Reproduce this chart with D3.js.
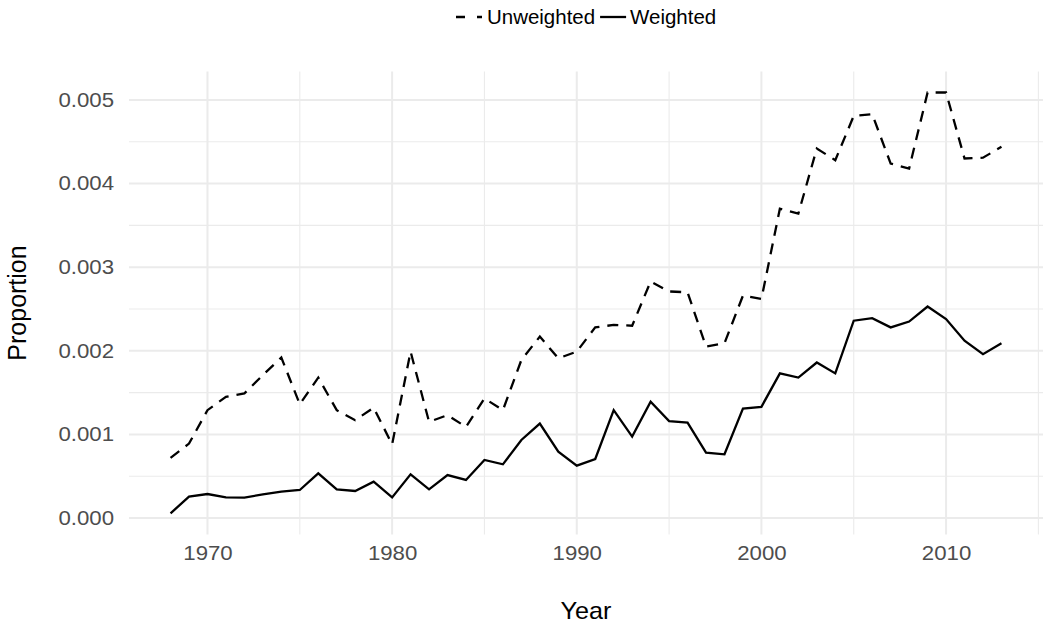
<!DOCTYPE html>
<html>
<head>
<meta charset="utf-8">
<script src="https://cdn.jsdelivr.net/npm/d3@7/dist/d3.min.js"></script>
<style>
  body { margin: 0; background: #fff; }
  text { font-family: "Liberation Sans", Arial, sans-serif; }
</style>
</head>
<body>
<svg id="chart" width="1050" height="628"></svg>
<script>
// data
const years = d3.range(1968, 2014);
const unweighted = [
  0.00072, 0.00089, 0.00129, 0.00145, 0.00149, 0.00171, 0.00192, 0.00136, 0.00168, 0.00129,
  0.00117, 0.00132, 0.00088, 0.00199, 0.00115, 0.00123, 0.00109, 0.00143, 0.00129, 0.00189,
  0.00217, 0.00191, 0.00199, 0.00228, 0.00231, 0.00230, 0.00283, 0.00271, 0.00270, 0.00205,
  0.00209, 0.00266, 0.00262, 0.00370, 0.00364, 0.00442, 0.00428, 0.00481, 0.00483, 0.00424,
  0.00418, 0.00509, 0.00509, 0.00430, 0.00431, 0.00444
];
const weighted = [
  0.000056, 0.000255, 0.000287, 0.000247, 0.000243, 0.000283, 0.000315, 0.000335, 0.000534, 0.000343,
  0.000323, 0.000434, 0.000247, 0.000522, 0.000343, 0.000514, 0.000455, 0.000694, 0.000642, 0.000933,
  0.00113, 0.000793, 0.000626, 0.000706, 0.00129, 0.000973, 0.00139, 0.00116, 0.00114, 0.000781,
  0.000762, 0.00131, 0.00133, 0.00173, 0.00168, 0.00186, 0.00173, 0.00236, 0.00239, 0.00228,
  0.00235, 0.00253, 0.00238, 0.00212, 0.00196, 0.00209
];
const xTicks = [1970, 1980, 1990, 2000, 2010];
const xMinor = [1975, 1985, 1995, 2005, 2015];
const yTicks = [0, 0.001, 0.002, 0.003, 0.004, 0.005];
const yMinor = [0.0005, 0.0015, 0.0025, 0.0035, 0.0045];
const seriesNames = ["Unweighted", "Weighted"];

let svg = d3.select("#chart");

// panel limits (ggplot style 5% expansion)
let x = d3.scaleLinear().domain([1965.75, 2015.25]).range([129, 1043]);
let y = d3.scaleLinear().domain([0, 0.005]).range([518, 100]);
let yLo = y.invert(534.5), yHi = y.invert(71.5);
let pTop = y(yHi), pBottom = y(yLo), pLeft = x.range()[0], pRight = x.range()[1];

let grid = svg.append("g");
// minor grid
grid.selectAll(".vminor").data(xMinor).enter().append("line")
    .attr("x1", d => x(d)).attr("x2", d => x(d))
    .attr("y1", pTop).attr("y2", pBottom)
    .attr("stroke", "#ebebeb").attr("stroke-width", 1.1);
grid.selectAll(".hminor").data(yMinor).enter().append("line")
    .attr("x1", pLeft).attr("x2", pRight)
    .attr("y1", d => y(d)).attr("y2", d => y(d))
    .attr("stroke", "#ebebeb").attr("stroke-width", 1.1);
// major grid
grid.selectAll(".vmajor").data(xTicks).enter().append("line")
    .attr("x1", d => x(d)).attr("x2", d => x(d))
    .attr("y1", pTop).attr("y2", pBottom)
    .attr("stroke", "#ebebeb").attr("stroke-width", 2);
grid.selectAll(".hmajor").data(yTicks).enter().append("line")
    .attr("x1", pLeft).attr("x2", pRight)
    .attr("y1", d => y(d)).attr("y2", d => y(d))
    .attr("stroke", "#ebebeb").attr("stroke-width", 2);

// axes (no ticks, no domain)
let xAxis = svg.append("g")
    .attr("transform", "translate(0," + (pBottom + 4) + ")")
    .call(d3.axisBottom(x).tickValues(xTicks).tickFormat(d3.format("d")).tickSize(0).tickPadding(8));
let yAxis = svg.append("g")
    .attr("transform", "translate(" + (pLeft - 15) + ",0)")
    .call(d3.axisLeft(y).tickValues(yTicks).tickFormat(d3.format(".3f")).tickSize(0).tickPadding(0));
[xAxis, yAxis].forEach(a => {
  a.select(".domain").remove();
  a.selectAll("text")
    .style("font-family", '"Liberation Sans", Arial, sans-serif')
    .style("font-size", "19.5px")
    .attr("fill", "#4d4d4d")
    .attr("transform", "scale(1.14,1)");
});

// lines
let line = d3.line().x((d, i) => x(years[i])).y(d => y(d));
svg.append("path").datum(unweighted)
    .attr("d", line).attr("fill", "none")
    .attr("stroke", "#000").attr("stroke-width", 2.3)
    .attr("stroke-dasharray", "11,8");
svg.append("path").datum(weighted)
    .attr("d", line).attr("fill", "none")
    .attr("stroke", "#000").attr("stroke-width", 2.3);

// axis titles
svg.append("text")
    .attr("x", (pLeft + pRight) / 2).attr("y", 619)
    .attr("text-anchor", "middle")
    .style("font-size", "24px")
    .attr("transform", "translate(" + (-(pLeft + pRight) / 2 * 0.05) + ",0) scale(1.05,1)")
    .text("Year");
svg.append("text")
    .attr("transform", "translate(26," + ((pTop + pBottom) / 2) + ") rotate(-90)")
    .attr("text-anchor", "middle")
    .style("font-size", "25px")
    .text("Proportion");

// legend
let legend = svg.append("g");
let lx = 456, ly = 17;
legend.append("line")
    .attr("x1", lx).attr("x2", lx + 26).attr("y1", ly).attr("y2", ly)
    .attr("stroke", "#000").attr("stroke-width", 2.3)
    .attr("stroke-dasharray", "9,12");
let t1 = legend.append("text")
    .attr("x", 0).attr("y", 0)
    .style("font-size", "19.5px")
    .attr("transform", "translate(" + (lx + 31) + "," + (ly + 7) + ") scale(1.05,1)")
    .text(seriesNames[0]);
let w1 = t1.node().getComputedTextLength() * 1.05;
let sx = lx + 31 + w1 + 5;
legend.append("line")
    .attr("x1", sx).attr("x2", sx + 26).attr("y1", ly).attr("y2", ly)
    .attr("stroke", "#000").attr("stroke-width", 2.3);
legend.append("text")
    .attr("x", 0).attr("y", 0)
    .style("font-size", "19.5px")
    .attr("transform", "translate(" + (sx + 30) + "," + (ly + 7) + ") scale(1.05,1)")
    .text(seriesNames[1]);
</script>
</body>
</html>
